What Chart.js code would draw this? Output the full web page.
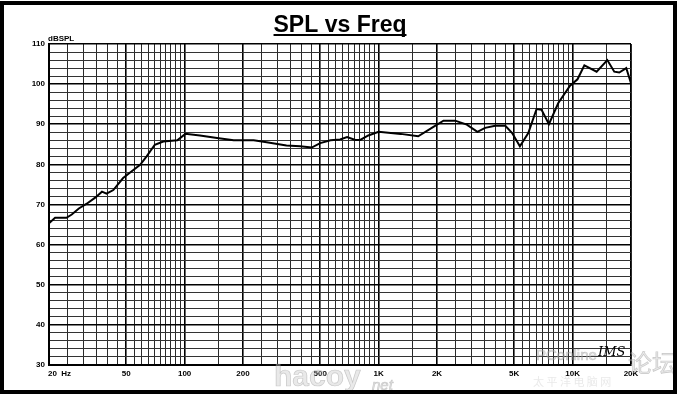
<!DOCTYPE html>
<html>
<head>
<meta charset="utf-8">
<script src="https://cdn.jsdelivr.net/npm/chart.js@4"></script>
<style>
  html, body { margin: 0; padding: 0; background: #fff; }
  canvas { display: block; }
</style>
</head>
<body>
<canvas id="spl" width="680" height="395"></canvas>
<script>
// Frequency response
const freqHz = [20, 21.5, 24.6, 26.2, 28.5, 31.3, 34.6, 37.5, 39.6, 42.9, 48.2, 53.4, 59, 63.7, 70.2, 77.6, 91.7,
  101, 120, 147, 179, 227, 265, 335, 394, 452, 500, 565, 633, 688, 759, 804, 885,
  1000, 1300, 1600, 1880, 2160, 2480, 2850, 3230, 3540, 3990, 4500, 4880, 5350, 5910, 6520, 6920, 7550, 8440, 9700,
  10600, 11500, 13300, 15100, 16400, 17400, 18900, 20000];
const splDb = [65.3, 66.7, 66.7, 67.5, 69, 70.2, 71.7, 73.2, 72.7, 73.6, 76.6, 78.3, 79.9, 82, 84.9, 85.7, 86,
  87.6, 87.2, 86.6, 86, 86, 85.5, 84.7, 84.5, 84.2, 85.3, 86, 86.2, 86.8, 86.1, 86.1, 87.2,
  88.1, 87.6, 87, 89.1, 90.9, 90.9, 89.9, 88.1, 89.1, 89.6, 89.6, 87.8, 84.5, 87.8, 93.8, 93.6, 90, 95.3, 99.6,
  101.2, 104.7, 103.1, 106, 103.1, 102.9, 104, 100.2];

// Axis labels
const xLabelValues = [20, 50, 100, 200, 500, 1000, 2000, 5000, 10000, 20000];
const xLabelText = ['20  Hz', '50', '100', '200', '500', '1K', '2K', '5K', '10K', '20K'];
const yMin = 30, yMax = 110, yStep = 2;

// grid: every half step inside each decade, like the chart paper
const gridSteps = [1, 1.5, 2, 2.5, 3, 3.5, 4, 4.5, 5, 5.5, 6, 6.5, 7, 7.5, 8, 8.5, 9, 9.5];
const xGrid = [];
[10, 100, 1000, 10000].forEach(d => {
  gridSteps.forEach(s => {
    const v = d * s;
    if (v >= 20 && v <= 20000) xGrid.push(v);
  });
});
xGrid.push(20000);

const FONT = '"Liberation Sans", Arial, sans-serif';

const paperPlugin = {
  id: 'paper',
  beforeDraw(chart) {
    const c = chart.ctx;
    c.save();
    c.fillStyle = '#fff';
    c.fillRect(0, 0, chart.width, chart.height);
    c.restore();
  },
  afterDraw(chart) {
    const c = chart.ctx;
    const xs = chart.scales.x;
    const area = chart.chartArea;
    c.save();

    // Title, underlined
    c.fillStyle = '#000';
    c.font = 'bold 23px ' + FONT;
    c.textAlign = 'center';
    c.textBaseline = 'alphabetic';
    const title = 'SPL vs Freq';
    c.fillText(title, 340, 32);
    const tw = c.measureText(title).width;
    c.fillRect(340 - tw / 2, 34, tw, 2);

    // unit label
    c.font = 'bold 8px ' + FONT;
    c.textAlign = 'left';
    c.fillText('dBSPL', area.left - 1, 41);

    // x tick labels
    c.font = 'bold 8px ' + FONT;
    c.textBaseline = 'middle';
    xLabelValues.forEach((v, i) => {
      const px = xs.getPixelForValue(v);
      c.textAlign = i === 0 ? 'left' : 'center';
      c.fillText(xLabelText[i], i === 0 ? px - 1 : px, area.bottom + 9);
    });

    // watermarks from the scan
    c.globalAlpha = 0.4;
    c.fillStyle = '#c8c8c8';
    c.strokeStyle = '#8a8a8a';
    c.lineWidth = 0.7;
    c.textAlign = 'left';
    c.textBaseline = 'alphabetic';
    c.font = 'bold 30px ' + FONT;
    c.fillText('hacoy', 274, 386);
    c.strokeText('hacoy', 274, 386);
    c.font = 'italic 15px ' + FONT;
    c.fillText('net', 372, 390);
    c.strokeText('net', 372, 390);
    c.font = '15px ' + FONT;
    c.fillText('PConline', 536, 360);
    c.strokeText('PConline', 536, 360);
    c.font = '24px "Noto Sans CJK SC"';
    c.fillText('论坛', 628, 372);
    c.strokeText('论坛', 628, 372);
    c.font = '11px "Noto Sans CJK SC"';
    c.fillText('太 平 洋 电 脑 网', 533, 386);
    c.globalAlpha = 1;

    // handwritten initials
    c.fillStyle = '#000';
    c.font = 'italic 13px "DejaVu Serif", serif';
    c.fillText('IMS', 598, 356);

    // scan frame
    c.strokeStyle = '#000';
    c.lineWidth = 4;
    c.strokeRect(2, 3, 673, 389);
    c.restore();
  }
};

new Chart(document.getElementById('spl'), {
  type: 'line',
  data: {
    datasets: [{
      data: freqHz.map((f, i) => ({ x: f, y: splDb[i] })),
      borderColor: '#000',
      borderWidth: 2,
      pointRadius: 0,
      tension: 0,
      fill: false
    }]
  },
  options: {
    responsive: false,
    animation: false,
    layout: { padding: { top: 44, right: 49, left: 0, bottom: 0 } },
    plugins: { legend: { display: false }, tooltip: { enabled: false } },
    scales: {
      x: {
        type: 'logarithmic',
        min: 20,
        max: 20000,
        afterBuildTicks: scale => { scale.ticks = xGrid.map(v => ({ value: v })); },
        afterFit: scale => { scale.height = 30; },
        ticks: { display: false },
        grid: {
          drawTicks: false,
          color: ctx => {
            const v = ctx.tick ? ctx.tick.value : 0;
            const m = v / Math.pow(10, Math.floor(Math.log10(v) + 1e-9));
            return [1, 2, 5].some(k => Math.abs(m - k) < 1e-6) ? '#000' : '#2a2a2a';
          },
          lineWidth: ctx => {
            const v = ctx.tick ? ctx.tick.value : 0;
            const m = v / Math.pow(10, Math.floor(Math.log10(v) + 1e-9));
            return [1, 2, 5].some(k => Math.abs(m - k) < 1e-6) ? 1.6 : 1;
          }
        },
        border: { color: '#000', width: 2 }
      },
      y: {
        min: yMin,
        max: yMax,
        afterFit: scale => { scale.width = 49; },
        ticks: {
          stepSize: yStep,
          autoSkip: false,
          padding: 4,
          color: '#000',
          font: { family: FONT, size: 8, weight: 'bold' },
          callback: v => (v % 10 === 0 ? String(v) : '')
        },
        grid: {
          drawTicks: false,
          color: ctx => (ctx.tick && ctx.tick.value % 10 === 0 ? '#000' : '#333'),
          lineWidth: ctx => (ctx.tick && ctx.tick.value % 10 === 0 ? 1.6 : 1)
        },
        border: { color: '#000', width: 2 }
      }
    }
  },
  plugins: [paperPlugin]
});
</script>
</body>
</html>
